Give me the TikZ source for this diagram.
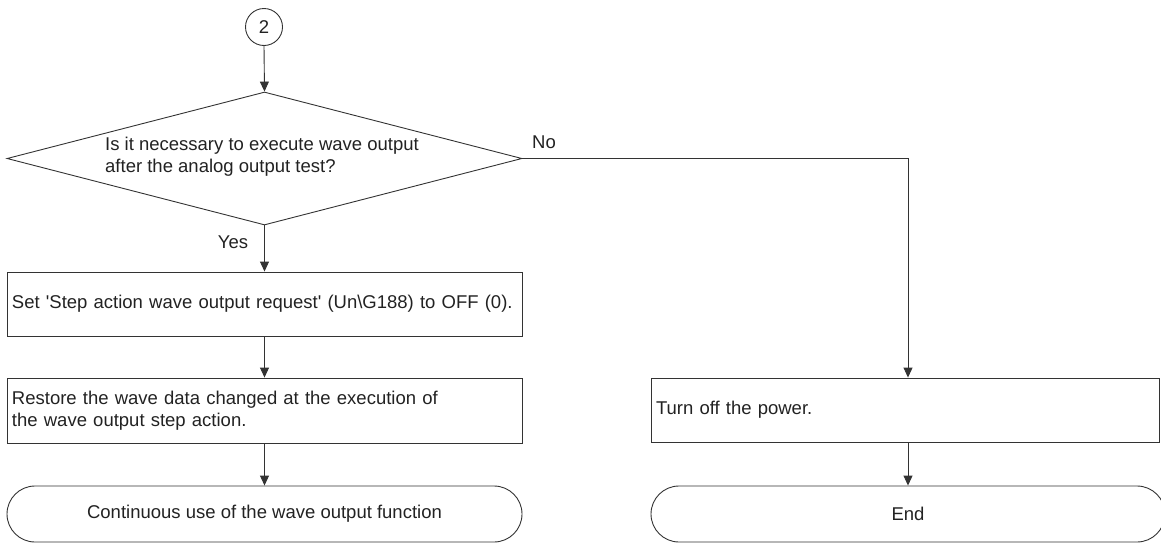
\documentclass[tikz,border=0pt]{standalone}
\usepackage{fontspec}
\setmainfont{Liberation Sans}[Ligatures=TeXOff]
\usetikzlibrary{shapes.geometric,shapes.misc,arrows.meta}
\definecolor{ln}{HTML}{333333}
\definecolor{tx}{HTML}{222222}
\begin{document}
\begin{tikzpicture}[x=1pt,y=-1pt,
  every node/.style={font=\fontsize{18.5}{22}\selectfont, text=tx},
  base/.style={draw=ln, line width=0.9pt},
  procbox/.style={base, rectangle, minimum height=64pt, inner sep=5pt, align=left, anchor=center},
  termbox/.style={base, rounded rectangle, minimum width=515pt, minimum height=56pt, inner sep=0pt},
  decbox/.style={base, diamond, minimum width=515pt, minimum height=133pt, inner sep=0pt, aspect=3.87, align=left},
  conn/.style={draw=ln, line width=0.9pt, -{Triangle[length=10pt,width=9pt]}},
  lab/.style={inner sep=0pt}
]
\useasboundingbox (0,0) rectangle (1161,544);
\clip (0,0) rectangle (1161,544);
\node[base, circle, minimum size=37pt, inner sep=0pt] (c2) at (264,27) {2};
\node[decbox] (d) at (264.5,158.5) {};
\node[align=left, inner sep=0pt] (dt) at (262,156.5) {Is it necessary to execute wave output\\after the analog output test?};
\node[procbox, minimum width=515pt, text width=505pt] (b1) at (264.5,304) {Set 'Step action wave output request' (Un\textbackslash G188) to OFF (0).};
\node[procbox, minimum width=515pt, text width=505pt, minimum height=65pt] (b2) at (264.5,410.5) {Restore the wave data changed at the execution of\\the wave output step action.};
\node[termbox] (t1) at (264.5,514) {Continuous use of the wave output function};
\node[procbox, minimum width=508pt, text width=498pt] (rb) at (905,410) {Turn off the power.};
\node[termbox, minimum width=514pt] (t2) at (908,514) {End};
\coordinate (k) at (908,158.5);
\node[lab] (no) at (544,142) {No};
\node[lab] (yes) at (233,242) {Yes};
\draw[conn] (c2.south) -- (d.north);
\draw[conn] (d.south) -- (b1.north);
\draw[conn] (b1.south) -- (b2.north);
\draw[conn] (b2.south) -- (t1.north);
\draw[conn] (d.east) -- (k) -- (k |- rb.north);
\draw[conn] (k |- rb.south) -- (t2.north);
\end{tikzpicture}
\end{document}
